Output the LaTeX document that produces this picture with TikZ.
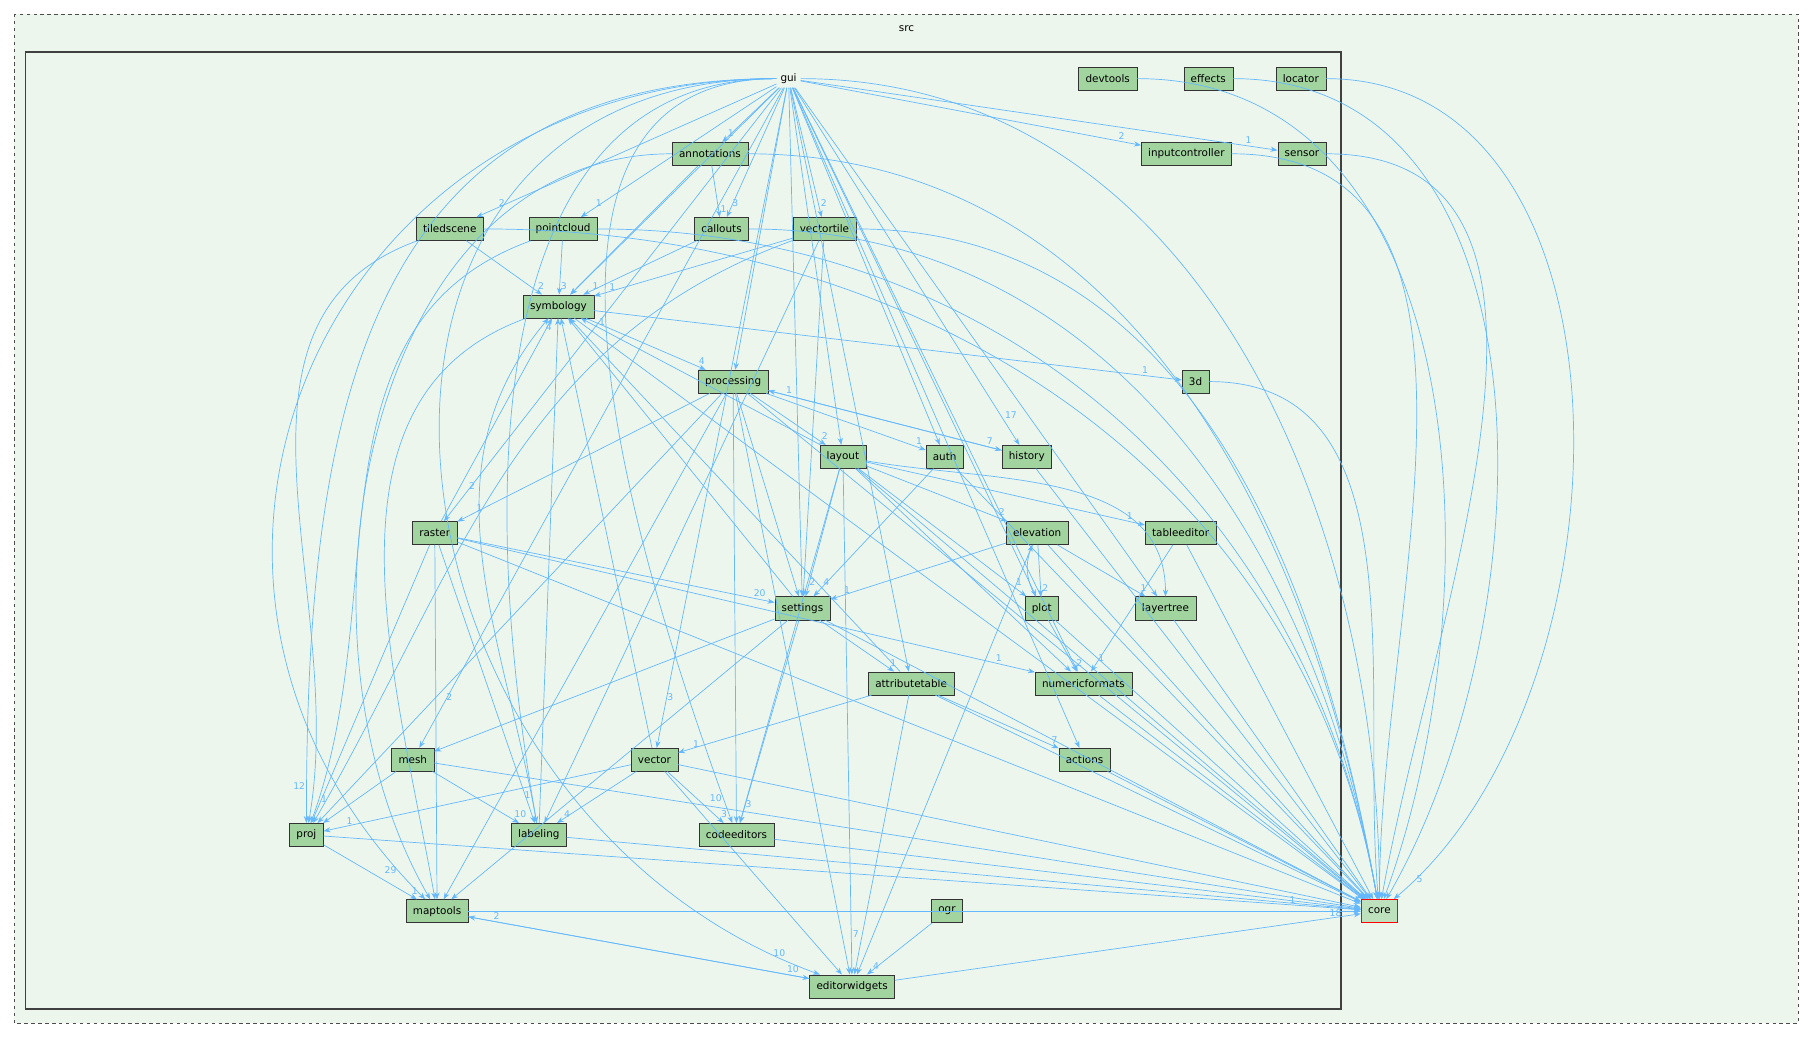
\documentclass[tikz,border=0pt]{standalone}
\usepackage{fontspec}
\setmainfont{DejaVu Sans}
\usetikzlibrary{arrows.meta}
\definecolor{dirgreen}{HTML}{A2D4A0}
\definecolor{boxgreen}{HTML}{EDF6EC}
\definecolor{edgeblue}{HTML}{63B8FF}
\tikzset{
  dir/.style={draw=black!80, fill=dirgreen, font=\fontsize{9}{10}\selectfont, minimum height=20pt, inner xsep=6pt},
  dep/.style={-{Stealth[length=6pt]}, draw=edgeblue, line width=0.6pt},
  num/.style={font=\fontsize{8}{9}\selectfont, text=edgeblue, inner sep=1pt}
}
\begin{document}
\begin{tikzpicture}[x=1pt,y=-1pt]
\useasboundingbox (0,0) rectangle (1568,897);
% frames
\draw[dashed, black!70, fill=boxgreen] (12,12) rectangle (1555,885);
\node[font=\fontsize{9}{10}\selectfont] (src) at (784,25) {src};
\draw[line width=1.6pt, black!75] (22,45) rectangle (1160,873);
% directories
\node[font=\fontsize{9}{10}\selectfont] (gui) at (682,68) {gui};
\node[dir] (devtools) at (958,68) {devtools};
\node[dir] (effects) at (1045,68) {effects};
\node[dir] (locator) at (1125,68) {locator};
\node[dir] (annotations) at (614,133) {annotations};
\node[dir] (inputcontroller) at (1026,133) {inputcontroller};
\node[dir] (sensor) at (1126,133) {sensor};
\node[dir] (tiledscene) at (389,198) {tiledscene};
\node[dir] (pointcloud) at (487,198) {pointcloud};
\node[dir] (callouts) at (624,198) {callouts};
\node[dir] (vectortile) at (713,198) {vectortile};
\node[dir] (symbology) at (483,265) {symbology};
\node[dir] (processing) at (634,330) {processing};
\node[dir] (d3) at (1034,330) {3d};
\node[dir] (layout) at (729,395) {layout};
\node[dir] (auth) at (817,395) {auth};
\node[dir] (history) at (888,395) {history};
\node[dir] (raster) at (376,461) {raster};
\node[dir] (elevation) at (897,461) {elevation};
\node[dir] (tableeditor) at (1021,461) {tableeditor};
\node[dir] (settings) at (694,526) {settings};
\node[dir] (plot) at (901,526) {plot};
\node[dir] (layertree) at (1008,526) {layertree};
\node[dir] (attributetable) at (788,591) {attributetable};
\node[dir] (numericformats) at (937,591) {numericformats};
\node[dir] (mesh) at (357,657) {mesh};
\node[dir] (vector) at (566,657) {vector};
\node[dir] (actions) at (938,657) {actions};
\node[dir] (proj) at (265,722) {proj};
\node[dir] (labeling) at (466,722) {labeling};
\node[dir] (codeeditors) at (637,722) {codeeditors};
\node[dir, draw=red, thick, fill=white!30!dirgreen] (core) at (1193,788) {core};
\node[dir] (ogr) at (819,788) {ogr};
\node[dir] (maptools) at (378,788) {maptools};
\node[dir] (editorwidgets) at (737,853) {editorwidgets};
% straight dependencies
\foreach \s/\t/\n in {gui/annotations/1, gui/inputcontroller/2, gui/sensor/1, gui/tiledscene/2,
  gui/pointcloud/1, gui/callouts/3, gui/vectortile/2, gui/symbology/, gui/processing/, gui/layout/,
  gui/auth/, gui/history/17, gui/raster/2, gui/settings/, gui/plot/, gui/layertree/, gui/numericformats/,
  gui/actions/, gui/attributetable/, gui/mesh/2, gui/vector/3,
  annotations/callouts/1, annotations/symbology/, callouts/symbology/1, tiledscene/symbology/2,
  pointcloud/symbology/3, vectortile/symbology/1, vectortile/settings/, vectortile/labeling/,
  symbology/processing/4, symbology/d3/1, processing/layout/2, processing/auth/1, processing/history/7,
  processing/raster/1, processing/settings/, processing/codeeditors/, processing/editorwidgets/,
  processing/proj/, processing/maptools/, history/processing/1, layout/symbology/1, layout/settings/2,
  layout/elevation/2, layout/tableeditor/1, layout/plot/1, layout/numericformats/, layout/codeeditors/,
  layout/editorwidgets/7, auth/settings/4, raster/symbology/4, raster/settings/20, raster/numericformats/1,
  raster/labeling/, raster/proj/1, raster/maptools/, elevation/plot/2, elevation/layertree/1,
  elevation/settings/1, elevation/editorwidgets/, tableeditor/numericformats/1, settings/symbology/,
  settings/attributetable/1, settings/mesh/, settings/codeeditors/3, settings/maptools/,
  plot/numericformats/2, attributetable/vector/1, attributetable/actions/7, attributetable/editorwidgets/,
  attributetable/symbology/, mesh/proj/, mesh/labeling/10, vector/symbology/, vector/proj/1,
  vector/labeling/4, vector/codeeditors/3, vector/editorwidgets/, labeling/symbology/, proj/maptools/1,
  ogr/editorwidgets/4, ogr/core/, maptools/editorwidgets/10, editorwidgets/maptools/2,
  editorwidgets/core/18, mesh/core/, vector/core/, labeling/core/, codeeditors/core/, proj/core/1,
  actions/core/, numericformats/core/, attributetable/core/, settings/core/, plot/core/, layertree/core/,
  elevation/core/, tableeditor/core/, auth/core/, layout/core/, processing/core/, history/core/,
  raster/core/, symbology/core/, maptools/core/}
  \draw[dep] (\s) -- (\t) node[num, pos=0.93, above right] {\n};
% curved dependencies
\draw[dep] (plot) to[bend left=25] (elevation);
\draw[dep] (gui) to[out=180,in=90,looseness=1.2] node[num, pos=0.97, left] {12} (proj);
\draw[dep] (gui) to[out=180,in=100] node[num, pos=0.97, left] {1} (labeling);
\draw[dep] (gui) to[out=180,in=135,looseness=1.3] node[num, pos=0.97, left] {29} (maptools);
\draw[dep] (gui) to[out=180,in=160,looseness=1.4] node[num, pos=0.97, above] {10} (editorwidgets);
\draw[dep] (gui) to[out=180,in=110] node[num, pos=0.97, left] {10} (codeeditors);
\draw[dep] (gui) to[out=0,in=90] (core);
\draw[dep] (devtools) to[out=0,in=70] (core);
\draw[dep] (effects) to[out=0,in=60] (core);
\draw[dep] (locator) to[out=0,in=40] node[num, pos=0.97, right] {5} (core);
\draw[dep] (inputcontroller) to[out=0,in=90] (core);
\draw[dep] (sensor) to[out=0,in=80] (core);
\draw[dep] (annotations) to[out=0,in=100] (core);
\draw[dep] (annotations) to[out=180,in=120] (maptools);
\draw[dep] (tiledscene) to[out=0,in=100] (core);
\draw[dep] (tiledscene) to[out=200,in=80] (proj);
\draw[dep] (pointcloud) to[out=0,in=100] (core);
\draw[dep] (pointcloud) to[out=200,in=70] (proj);
\draw[dep] (callouts) to[out=0,in=100] (core);
\draw[dep] (vectortile) to[out=0,in=100] (core);
\draw[dep] (vectortile) to[out=200,in=60] (proj);
\draw[dep] (d3) to[out=0,in=95] (core);
\draw[dep] (layout) to[out=-10,in=90] (layertree);
\draw[dep] (symbology) to[out=200,in=100] (maptools);
\draw[dep] (labeling) to[out=100,in=230] (symbology);
\end{tikzpicture}
\end{document}
